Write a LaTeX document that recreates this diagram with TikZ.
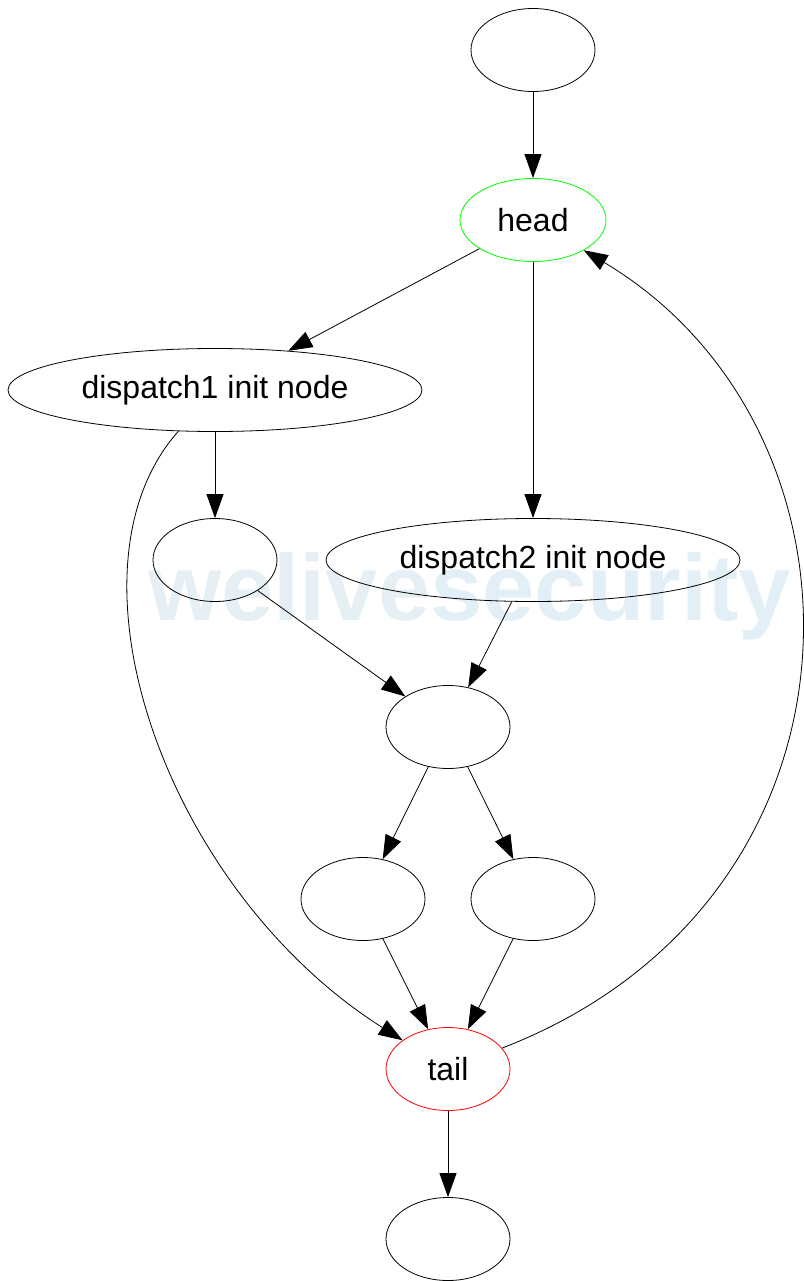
\documentclass[tikz,border=0pt]{standalone}
\usepackage{fontspec}
\setmainfont{Liberation Sans}
\usetikzlibrary{shapes.geometric,arrows.meta}
\definecolor{wmA}{RGB}{230,240,244}
\definecolor{wmB}{RGB}{226,239,246}
\begin{document}
\begin{tikzpicture}[x=1pt,y=-1pt,
  nd/.style={draw=black,ellipse,line width=0.8pt,minimum width=124pt,minimum height=83pt,inner sep=0pt,font=\fontsize{32}{36}\selectfont},
  wide/.style={minimum width=414pt},
  hd/.style={minimum width=146pt},
  edge/.style={line width=0.8pt,-{Triangle[length=24pt,width=17pt]}}]
\useasboundingbox (0,0) rectangle (803,1281);
\node[anchor=base west,inner sep=0pt,font=\fontsize{94}{100}\selectfont\bfseries] (wm) at (148,620) {\textcolor{wmA}{welive}\textcolor{wmB}{security}};
\node[nd] (top) at (533,50) {};
\node[nd,hd,draw=green] (head) at (533,220) {head};
\node[nd,wide] (d1) at (215,390) {dispatch1 init node};
\node[nd] (n1) at (215,560) {};
\node[nd,wide] (d2) at (533,560) {dispatch2 init node};
\node[nd] (mid) at (448,727) {};
\node[nd] (L) at (363,899) {};
\node[nd] (R) at (533,899) {};
\node[nd,draw=red] (tail) at (448,1069) {tail};
\node[nd] (bot) at (448,1239) {};
\draw[edge] (top) -- (head);
\draw[edge] (head) -- (d1);
\draw[edge] (head) -- (d2);
\draw[edge] (d1.south -| n1.north) -- (n1);
\draw[edge] (d1) .. controls (55,570) and (165,890) .. (tail);
\draw[edge] (n1) -- (mid);
\draw[edge] (d2) -- (mid);
\draw[edge] (mid) -- (L);
\draw[edge] (mid) -- (R);
\draw[edge] (L) -- (tail);
\draw[edge] (R) -- (tail);
\draw[edge] (tail) .. controls (885,900) and (885,430) .. (head);
\draw[edge] (tail) -- (bot);
\end{tikzpicture}
\end{document}
